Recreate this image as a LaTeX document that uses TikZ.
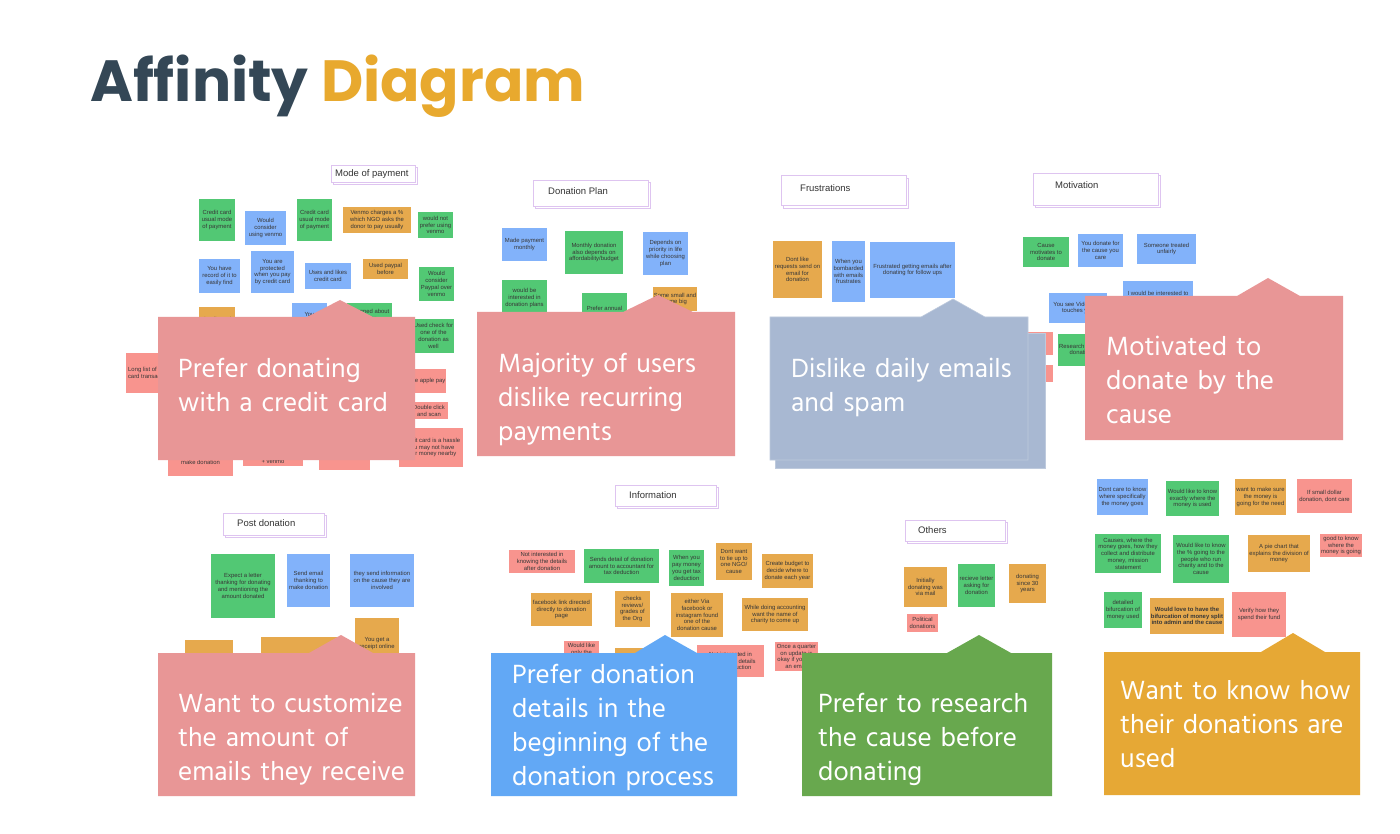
\documentclass[tikz,border=0pt]{standalone}
\usepackage{fontspec}
\usepackage{graphicx}
\setmainfont{Liberation Sans}
\newfontfamily\titlefont{Poppins}
\newfontfamily\callfont{Hind Siliguri}
\definecolor{ink}{RGB}{52,71,86}
\definecolor{gold}{RGB}{232,169,46}
\definecolor{gr}{RGB}{82,200,116}
\definecolor{bl}{RGB}{130,178,250}
\definecolor{or}{RGB}{230,169,77}
\definecolor{pk}{RGB}{248,148,142}
\definecolor{cpink}{RGB}{232,150,150}
\definecolor{cgrey}{RGB}{168,184,210}
\definecolor{cblue}{RGB}{98,168,245}
\definecolor{cgreen}{RGB}{104,168,78}
\definecolor{cgold}{RGB}{230,168,53}
\definecolor{hline}{RGB}{222,196,240}
\definecolor{notetxt}{RGB}{55,55,55}
\begin{document}
\begin{tikzpicture}[x=1pt, y=-1pt,
    note/.style={rectangle, inner sep=1pt, align=center, text=notetxt, font=\fontsize{5.9}{6.8}\selectfont},
    hdr/.style={draw=hline, line width=0.8pt, fill=white},
    hdrtxt/.style={anchor=west, inner sep=0pt, text=black!80, font=\fontsize{9.5}{10}\selectfont},
    calltxt/.style={anchor=base west, inner sep=0pt, text width=250pt, align=left, text=white, font=\callfont\fontsize{27}{34}\selectfont}]
    \useasboundingbox (0,0) rectangle (1400,834);
    \fill[white] (0,0) rectangle (1400,834);

    % Titolo
    \node[anchor=base west, inner sep=0pt] (title) at (90,102) {\resizebox{495pt}{!}{\titlefont\bfseries\color{ink}Affinity \color{gold}Diagram}};

    % Intestazioni dei gruppi (doppio bordo lilla)
    \draw[hdr] (333,167) rectangle (417,184); \draw[hdr] (331,165) rectangle (415,182);
    \node[hdrtxt] (hmode) at (335,174) {Mode of payment};
    \draw[hdr] (535,182) rectangle (650,208); \draw[hdr] (533,180) rectangle (648,206);
    \node[hdrtxt] (hplan) at (548,191) {Donation Plan};
    \draw[hdr] (783,178) rectangle (908,208); \draw[hdr] (781,175) rectangle (906,205);
    \node[hdrtxt] (hfrus) at (800,188) {Frustrations};
    \draw[hdr] (1035,175) rectangle (1160,207); \draw[hdr] (1033,173) rectangle (1158,205);
    \node[hdrtxt] (hmoti) at (1055,185) {Motivation};
    \draw[hdr] (225,515) rectangle (326,537); \draw[hdr] (223,513) rectangle (324,535);
    \node[hdrtxt] (hpost) at (237,523) {Post donation};
    \draw[hdr] (617,487) rectangle (718,508); \draw[hdr] (615,485) rectangle (716,506);
    \node[hdrtxt] (hinfo) at (629,495) {Information};
    \draw[hdr] (907,522) rectangle (1007,543); \draw[hdr] (905,520) rectangle (1005,541);
    \node[hdrtxt] (hothe) at (918,530) {Others};

    % Post-it: Mode of payment
    \node[note, fill=gr, minimum width=36, minimum height=42] (mp1) at (217,220) {Credit card\\usual mode\\of payment};
    \node[note, fill=bl, minimum width=41, minimum height=34] (mp2) at (265.5,228) {Would\\consider\\using venmo};
    \node[note, fill=gr, minimum width=35, minimum height=42] (mp3) at (314.5,220) {Credit card\\usual mode\\of payment};
    \node[note, fill=or, minimum width=68, minimum height=26] (mp4) at (377,220) {Venmo charges a \%\\which NGO asks the\\donor to pay usually};
    \node[note, fill=gr, minimum width=35, minimum height=26] (mp5) at (435.5,225) {would not\\prefer using\\venmo};
    \node[note, fill=bl, minimum width=41, minimum height=34] (mp6) at (219.5,276) {You have\\record of it to\\easily find};
    \node[note, fill=bl, minimum width=43, minimum height=42] (mp7) at (272.5,272) {You are\\protected\\when you pay\\by credit card};
    \node[note, fill=bl, minimum width=46, minimum height=26] (mp8) at (328,276) {Uses and likes\\credit card};
    \node[note, fill=or, minimum width=45, minimum height=20] (mp9) at (385.5,269) {Used paypal\\before};
    \node[note, fill=gr, minimum width=35, minimum height=34] (mp10) at (436.5,284) {Would\\consider\\Paypal over\\venmo};
    \node[note, fill=or, minimum width=36, minimum height=38] (mp11) at (217,326) {Credit card\\~\\~};
    \node[note, fill=bl, minimum width=35, minimum height=37] (mp12) at (309.5,321.5) {You\\~\\~};
    \node[note, fill=gr, minimum width=45, minimum height=37] (mp13) at (369.5,321.5) {Informed about\\other\\~\\~};
    \node[note, fill=gr, minimum width=41, minimum height=34] (mp14) at (433.5,336) {Used check for\\one of the\\donation as\\well};
    \node[note, fill=pk, minimum width=49, minimum height=40] (mp15) at (150.5,373) {Long list of credit\\card transactions};
    \node[note, fill=pk, minimum width=33, minimum height=24] (mp16) at (426.5,381) {Use apple pay};
    \node[note, fill=pk, minimum width=38, minimum height=17] (mp17) at (429,410.5) {Double click\\and scan};
    \node[note, fill=pk, minimum width=64, minimum height=39] (mp18) at (431,447.5) {Credit card is a hassle\\you may not have\\your money nearby};
    \node[note, fill=pk, minimum width=65, minimum height=36] (mp19) at (200.5,458) {~\\~\\make donation};
    \node[note, fill=pk, minimum width=60, minimum height=19] (mp20) at (273,456.5) {~\\~\\+ venmo};
    \node[note, fill=pk, minimum width=51, minimum height=20] (mp21) at (344.5,460) {};

    % Post-it: Donation Plan
    \node[note, fill=bl, minimum width=45, minimum height=33] (dp1) at (524.5,244.5) {Made payment\\monthly};
    \node[note, fill=gr, minimum width=58, minimum height=43] (dp2) at (594,252.5) {Monthly donation\\also depends on\\affordability/budget};
    \node[note, fill=bl, minimum width=45, minimum height=43] (dp3) at (665.5,253.5) {Depends on\\priority in life\\while choosing\\plan};
    \node[note, fill=gr, minimum width=45, minimum height=36] (dp4) at (524.5,298) {would be\\interested in\\donation plans};
    \node[note, fill=gr, minimum width=45, minimum height=37] (dp5) at (604.5,311.5) {Prefer annual\\~};
    \node[note, fill=or, minimum width=44, minimum height=24] (dp6) at (675,299) {Some small and\\some big};

    % Post-it: Frustrations
    \node[note, fill=or, minimum width=49, minimum height=57] (fr1) at (797.5,269.5) {Dont like\\requests send on\\email for\\donation};
    \node[note, fill=bl, minimum width=33, minimum height=61] (fr2) at (848.5,271.5) {When you\\bombarded\\with emails\\frustrates};
    \node[note, fill=bl, minimum width=85, minimum height=56] (fr3) at (912.5,270) {Frustrated getting emails after\\donating for follow ups};

    % Post-it: Motivation
    \node[note, fill=gr, minimum width=46, minimum height=30] (mo1) at (1046,252) {Cause\\motivates to\\donate};
    \node[note, fill=bl, minimum width=45, minimum height=33] (mo2) at (1100.5,250.5) {You donate for\\the cause you\\care};
    \node[note, fill=bl, minimum width=59, minimum height=30] (mo3) at (1166.5,249) {Someone treated\\unfairly};
    \node[note, fill=bl, minimum width=70, minimum height=38] (mo4) at (1158,300) {I would be interested to\\~\\~};
    \node[note, fill=bl, minimum width=58, minimum height=30] (mo5) at (1078,308) {You see Video that\\touches you};
    \node[note, fill=pk, minimum width=28, minimum height=23] (mo6) at (1039,343.5) {};
    \node[note, fill=pk, minimum width=28, minimum height=17] (mo7) at (1039,373.5) {};
    \node[note, fill=gr, minimum width=38, minimum height=32] (mo8) at (1081,350) {Research before\\donating};

    % Post-it: gruppo in basso a destra
    \node[note, fill=bl, minimum width=51, minimum height=36] (rb1) at (1122.5,497) {Dont care to know\\where specifically\\the money goes};
    \node[note, fill=gr, minimum width=53, minimum height=35] (rb2) at (1192.5,498.5) {Would like to know\\exactly where the\\money is used};
    \node[note, fill=or, minimum width=51, minimum height=36] (rb3) at (1260.5,497) {want to make sure\\the money is\\going for the need};
    \node[note, fill=pk, minimum width=55, minimum height=34] (rb4) at (1324.5,496) {If small dollar\\donation, dont care};
    \node[note, fill=gr, minimum width=66, minimum height=39] (rb5) at (1128,553.5) {Causes, where the\\money goes, how they\\collect and distribute\\money, mission\\statement};
    \node[note, fill=gr, minimum width=56, minimum height=48] (rb6) at (1201,559) {Would like to know\\the \% going to the\\people who run\\charity and to the\\cause};
    \node[note, fill=or, minimum width=62, minimum height=37] (rb7) at (1279,553.5) {A pie chart that\\explains the division of\\money};
    \node[note, fill=pk, minimum width=42, minimum height=23] (rb8) at (1341,545.5) {good to know\\where the\\money is going};
    \node[note, fill=gr, minimum width=38, minimum height=36] (rb9) at (1123,610) {detailed\\bifurcation of\\money used};
    \node[note, fill=or, minimum width=74, minimum height=36, font=\fontsize{5.9}{6.8}\selectfont\bfseries] (rb10) at (1187,616) {Would love to have the\\bifurcation of money split\\into admin and the cause};
    \node[note, fill=pk, minimum width=54, minimum height=45] (rb11) at (1259,614.5) {Verify how they\\spend their fund};

    % Post-it: Post donation
    \node[note, fill=gr, minimum width=64, minimum height=64] (pd1) at (243,586) {Expect a letter\\thanking for donating\\and mentioning the\\amount donated};
    \node[note, fill=bl, minimum width=43, minimum height=53] (pd2) at (308.5,580.5) {Send email\\thanking to\\make donation};
    \node[note, fill=bl, minimum width=64, minimum height=53] (pd3) at (382,580.5) {they send information\\on the cause they are\\involved};
    \node[note, fill=or, minimum width=44, minimum height=56] (pd4) at (377,646) {You get a\\receipt online\\~};
    \node[note, fill=or, minimum width=48, minimum height=40] (pd5) at (209,660) {};
    \node[note, fill=or, minimum width=76, minimum height=43] (pd6) at (299,658.5) {};

    % Post-it: Information
    \node[note, fill=pk, minimum width=66, minimum height=23] (in1) at (542,561.5) {Not interested in\\knowing the details\\after donation};
    \node[note, fill=gr, minimum width=75, minimum height=34] (in2) at (621.5,566) {Sends detail of donation\\amount to accountant for\\tax deduction};
    \node[note, fill=gr, minimum width=35, minimum height=36] (in3) at (686.5,568) {When you\\pay money\\you get tax\\deduction};
    \node[note, fill=or, minimum width=36, minimum height=37] (in4) at (734,561.5) {Dont want\\to tie up to\\one NGO/\\cause};
    \node[note, fill=or, minimum width=51, minimum height=34] (in5) at (787.5,571) {Create budget to\\decide where to\\donate each year};
    \node[note, fill=or, minimum width=61, minimum height=33] (in6) at (561.5,609.5) {facebook link directed\\directly to donation\\page};
    \node[note, fill=or, minimum width=35, minimum height=36] (in7) at (632.5,609) {checks\\reviews/\\grades of\\the Org};
    \node[note, fill=or, minimum width=52, minimum height=44] (in8) at (697,615) {either Via\\facebook or\\instagram found\\one of the\\donation cause};
    \node[note, fill=or, minimum width=66, minimum height=33] (in9) at (775,614.5) {While doing accounting\\want the name of\\charity to come up};
    \node[note, fill=pk, minimum width=35, minimum height=29] (in10) at (581.5,655.5) {Would like\\only the\\~\\~};
    \node[note, fill=or, minimum width=30, minimum height=32] (in11) at (630,664) {};
    \node[note, fill=pk, minimum width=67, minimum height=32] (in12) at (730.5,661) {Not interested in\\knowing the details\\of tax deduction};
    \node[note, fill=pk, minimum width=43, minimum height=29] (in13) at (796.5,656.5) {Once a quarter\\on update is\\okay if you get\\an email};

    % Post-it: Others
    \node[note, fill=or, minimum width=43, minimum height=40] (ot1) at (925.5,587) {Initially\\donating was\\via mail};
    \node[note, fill=gr, minimum width=37, minimum height=43] (ot2) at (976.5,585.5) {recieve letter\\asking for\\donation};
    \node[note, fill=or, minimum width=37, minimum height=39] (ot3) at (1027.5,583.5) {donating\\since 30\\years};
    \node[note, fill=pk, minimum width=31, minimum height=18] (ot4) at (922.5,623) {Political\\donations};

    % Riquadri di sintesi (rettangolo con punta in alto)
    \fill[cpink] (158,317) -- (307,317) -- (340,300) -- (373,317) -- (415,317) -- (415,460) -- (158,460) -- cycle;
    \node[calltxt] (cmode) at (178,377) {Prefer donating\\with a credit card};

    \fill[cpink] (477,312) -- (623,312) -- (658,295) -- (693,312) -- (735,312) -- (735,456) -- (477,456) -- cycle;
    \node[calltxt] (cplan) at (498,372) {Majority of users\\dislike recurring\\payments};

    \filldraw[cgrey, draw=white!25!cgrey, line width=0.6pt] (775,333) rectangle (1045,468);
    \filldraw[cgrey, draw=white!25!cgrey, line width=0.6pt] (770,317) -- (921,317) -- (953,299) -- (985,317) -- (1028,317) -- (1028,460) -- (770,460) -- cycle;
    \node[calltxt] (cfrus) at (791,377) {Dislike daily emails\\and spam};

    \fill[cpink] (1085,296) -- (1237,296) -- (1268,278) -- (1300,296) -- (1343,296) -- (1343,440) -- (1085,440) -- cycle;
    \node[calltxt] (cmoti) at (1106,355) {Motivated to\\donate by the\\cause};

    \fill[cpink] (158,653) -- (309,653) -- (341,635) -- (373,653) -- (415,653) -- (415,796) -- (158,796) -- cycle;
    \node[calltxt] (cpost) at (178,712) {Want to customize\\the amount of\\emails they receive};

    \fill[cblue] (491,653) -- (635,653) -- (665,635) -- (697,653) -- (737,653) -- (737,796) -- (491,796) -- cycle;
    \node[calltxt] (cinfo) at (512,683) {Prefer donation\\details in the\\beginning of the\\donation process};

    \fill[cgreen] (802,653) -- (947,653) -- (979,635) -- (1011,653) -- (1052,653) -- (1052,796) -- (802,796) -- cycle;
    \node[calltxt] (cothe) at (818,712) {Prefer to research\\the cause before\\donating};

    \fill[cgold] (1104,652) -- (1261,652) -- (1293,633) -- (1325,652) -- (1360,652) -- (1360,795) -- (1104,795) -- cycle;
    \node[calltxt] (cuse) at (1120,699) {Want to know how\\their donations are\\used};
\end{tikzpicture}
\end{document}
